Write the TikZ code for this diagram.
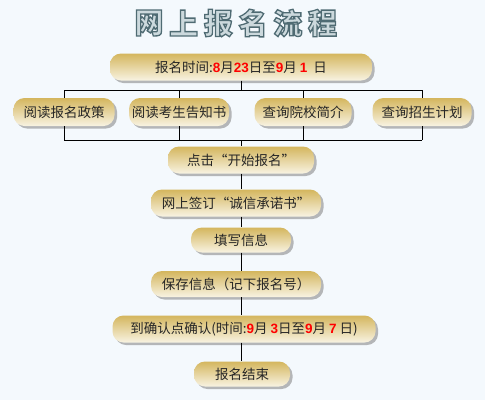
\documentclass[tikz,border=0pt]{standalone}
\usepackage{fontspec}
\setmainfont{Noto Sans CJK SC}[AutoFakeBold=2]
\newfontfamily\numfont{Liberation Sans}
\IfFontExistsTF{Noto Sans CJK SC Black}
  {\newfontfamily\titlefont{Noto Sans CJK SC Black}}
  {\newfontfamily\titlefont{Noto Sans CJK SC}}
\usetikzlibrary{shadows}
\usetikzlibrary{positioning}

\definecolor{bgblue}{RGB}{244,249,253}
\definecolor{goldtop}{RGB}{212,182,94}
\definecolor{goldbot}{RGB}{248,243,226}
\definecolor{titlefill}{RGB}{204,217,221}

\newcommand{\hl}[1]{{\numfont\bfseries\textcolor{red}{#1}}}
% outlined title glyph: fill and stroke render mode
\newcommand{\outl}[1]{\textcolor{titlefill}{\special{pdf:literal direct 2 Tr 1.3 w 0.31 0.42 0.45 RG}#1\special{pdf:literal direct 0 Tr}}}

\tikzset{
pill/.style={rounded corners=11pt, top color=goldtop, bottom color=goldbot,
  drop shadow={shadow xshift=2.5pt, shadow yshift=-2.5pt, fill=black!50, opacity=.55},
  font=\fontsize{13.5}{13.5}\selectfont, text=black!85, inner sep=0pt, minimum height=27pt},
}

\begin{document}
\begin{tikzpicture}[x=1pt, y=-1pt]
\fill[bgblue] (0,0) rectangle (485,400);
\useasboundingbox (0,0) rectangle (485,400);
\foreach \c [count=\i from 0] in {网,上,报,名,流,程}
  \node (title\i) at (149+34.7*\i, 23) {\titlefont\fontsize{29}{29}\selectfont\outl{\c}};

\node[pill, minimum width=262pt] (time) at (241,67) {报名时间:\hl{8}月\hl{23}日至\hl{9}月 \hl{1}\ \ 日};
\node[pill, minimum width=101pt, minimum height=28pt] (policy) at (64,112) {阅读报名政策};
\node[pill, minimum width=100pt, minimum height=28pt] (notice) at (179,112) {阅读考生告知书};
\node[pill, minimum width=97pt, minimum height=28pt] (school) at (303,112) {查询院校简介};
\node[pill, minimum width=99pt, minimum height=28pt] (plan) at (422,112) {查询招生计划};
\coordinate (barT) at (241,90);
\coordinate (barB) at (241,140);

\node[pill, minimum width=146pt] (click) at (241,160) {点击“开始报名”};
\node[pill, minimum width=170pt] (sign) at (236,203) {网上签订“诚信承诺书”};
\node[pill, minimum width=100pt, minimum height=25pt] (write) at (241,240) {填写信息};
\node[pill, minimum width=170pt, minimum height=26pt] (save) at (236,284) {保存信息（记下报名号）};
\node[pill, minimum width=263pt] (confirm) at (244,329) {到确认点确认(时间:\hl{9}月 \hl{3}日至\hl{9}月 \hl{7} 日)};
\node[pill, minimum width=96pt, minimum height=25pt] (finish) at (242,374) {报名结束};

\draw (time.south) -- (barT);
\draw (policy.north |- barT) -- (plan.north |- barT);
\draw (policy.south |- barB) -- (plan.south |- barB);
\foreach \n in {policy,notice,school,plan}
{
\draw (\n.north) -- (\n.north |- barT);
\draw (\n.south) -- (\n.south |- barB);
}
\draw (barB) -- (click.north);
\foreach \a/\b in {click/sign, sign/write, write/save, save/confirm, confirm/finish}
  \draw (\a.south -| barB) -- (\b.north -| barB);
\end{tikzpicture}
\end{document}
